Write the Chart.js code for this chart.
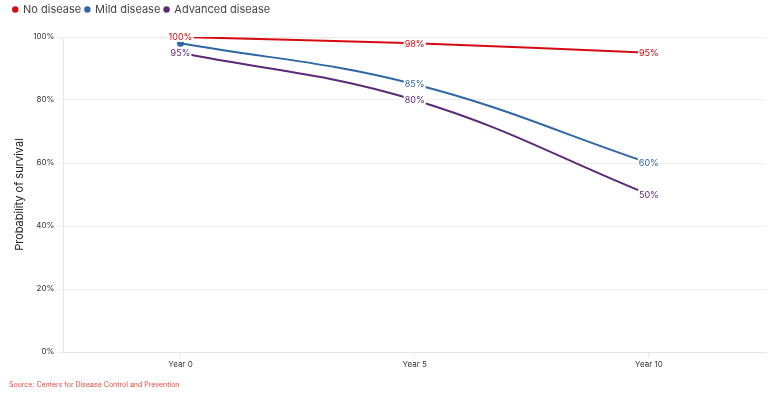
<!DOCTYPE html>
<html>
<head>
<meta charset="utf-8">
<script src="https://cdn.jsdelivr.net/npm/chart.js@4"></script>
<style>
  html, body { margin: 0; padding: 0; background: #fff; }
  #wrap { width: 778px; height: 393px; position: relative; }
</style>
</head>
<body>
<div id="wrap"><canvas id="survivalChart"></canvas></div>
<script>
const years = ['Year 0', 'Year 5', 'Year 10'];
const noDisease = [100, 98, 95];
const mildDisease = [98, 85, 60];
const advancedDisease = [95, 80, 50];
const yTicks = [0, 20, 40, 60, 80, 100];

const FONT = 'Inter, "Noto Sans", sans-serif';

// simple value labels with white box, skipped when they collide
const pointLabels = {
    id: 'pointLabels',
    afterDatasetsDraw(chart) {
        const ctx = chart.ctx;
        const drawn = [];
        ctx.save();
        ctx.font = '9px ' + FONT;
        ctx.textAlign = 'center';
        ctx.textBaseline = 'middle';
        chart.data.datasets.forEach((ds, i) => {
            const meta = chart.getDatasetMeta(i);
            meta.data.forEach((pt, j) => {
                const txt = ds.data[j] + '%';
                const w = ctx.measureText(txt).width + 2;
                const h = 10;
                const box = { x: pt.x - w / 2, y: pt.y - h / 2, w: w, h: h };
                const hit = drawn.some(b => box.x < b.x + b.w && b.x < box.x + box.w && box.y < b.y + b.h && b.y < box.y + box.h);
                if (hit) return;
                drawn.push(box);
                ctx.fillStyle = '#fff';
                ctx.fillRect(box.x, box.y, box.w, box.h);
                ctx.fillStyle = ds.borderColor;
                ctx.fillText(txt, pt.x, pt.y + 0.5);
            });
        });
        ctx.restore();
    }
};

// extra room between legend and plot
const legendGap = {
    id: 'legendGap',
    beforeInit(chart) {
        const fit = chart.legend.fit;
        chart.legend.fit = function () {
            fit.call(this);
            this.height += 12;
        };
    }
};

const ctx = document.getElementById('survivalChart').getContext('2d');
new Chart(ctx, {
    type: 'line',
    data: {
        labels: years,
        datasets: [
            { label: 'No disease', data: noDisease, borderColor: '#d50a12', backgroundColor: '#d50a12' },
            { label: 'Mild disease', data: mildDisease, borderColor: '#2f67a6', backgroundColor: '#2f67a6' },
            { label: 'Advanced disease', data: advancedDisease, borderColor: '#5a2a78', backgroundColor: '#5a2a78' }
        ].map(d => Object.assign(d, { borderWidth: 2, tension: 0.4, pointRadius: 2.5, pointHoverRadius: 3, fill: false }))
    },
    options: {
        responsive: true,
        maintainAspectRatio: false,
        animation: false,
        layout: { padding: { left: 9, right: 12, top: 0, bottom: 0 } },
        plugins: {
            legend: {
                position: 'top',
                align: 'start',
                labels: {
                    usePointStyle: true,
                    pointStyle: 'circle',
                    boxWidth: 4.5,
                    boxHeight: 4.5,
                    padding: 4,
                    color: '#444',
                    font: { family: FONT, size: 11 },
                    generateLabels(chart) {
                        return Chart.defaults.plugins.legend.labels.generateLabels(chart)
                            .map(item => Object.assign(item, { lineWidth: 0 }));
                    }
                }
            },
            subtitle: {
                display: true,
                position: 'bottom',
                align: 'start',
                text: 'Source: Centers for Disease Control and Prevention',
                color: '#e6483f',
                font: { family: FONT, size: 7 },
                padding: { top: 8, bottom: 4 }
            },
            tooltip: { enabled: false }
        },
        scales: {
            x: {
                offset: true,
                grid: { display: true, drawOnChartArea: false, color: '#e6e6e6', tickLength: 5 },
                border: { color: '#e6e6e6' },
                ticks: { color: '#333', font: { family: FONT, size: 8 } }
            },
            y: {
                min: 0,
                max: 100,
                afterBuildTicks(axis) { axis.ticks = yTicks.map(v => ({ value: v })); },
                grid: { color: '#ececec', tickLength: 6 },
                border: { color: '#e6e6e6' },
                ticks: { color: '#333', font: { family: FONT, size: 8 }, callback: v => v + '%' },
                title: { display: true, text: 'Probability of survival', color: '#222', font: { family: FONT, size: 11 } }
            }
        }
    },
    plugins: [pointLabels, legendGap]
});
</script>
</body>
</html>
